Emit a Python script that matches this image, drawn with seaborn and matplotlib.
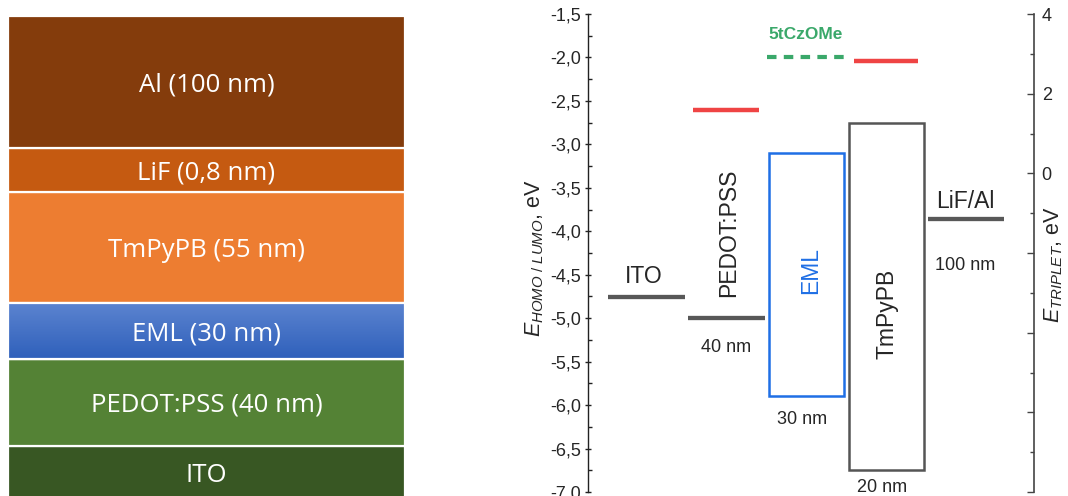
import numpy as np
import pandas as pd
import matplotlib
matplotlib.use("Agg")
import matplotlib.pyplot as plt
import seaborn as sns
from matplotlib.colors import LinearSegmentedColormap

# ---------------- data ----------------
stack_labels = ["ITO", "PEDOT:PSS (40 nm)", "EML (30 nm)", "TmPyPB (55 nm)", "LiF (0,8 nm)", "Al (100 nm)"]
stack_heights = [55.3, 86.5, 56.5, 111.0, 43.9, 131.8]      # schematic layer heights
stack_colors = ["#385723", "#548235", "#4472c4", "#ed7d31", "#c55a11", "#843c0c"]

level_names = ["ITO", "PEDOT:PSS", "LiF/Al"]
level_energy = [-4.76, -5.00, -3.86]

box_names = ["EML", "TmPyPB"]
box_lumo = [-3.10, -2.75]
box_homo = [-5.90, -6.75]

triplet_names = ["PEDOT:PSS", "5tCzOMe", "TmPyPB"]
triplet_energy = [1.60, 2.91, 2.81]

left_ticks = [-7.0, -6.5, -6.0, -5.5, -5.0, -4.5, -4.0, -3.5, -3.0, -2.5, -2.0, -1.5]
right_ticks = [-8, -6, -4, -2, 0, 2, 4]
right_ticklabels = ["", "", "", "", "0", "2", "4"]

# ---------------- style ----------------
sns.set_theme(style="white")
plt.rcParams["font.family"] = ["Liberation Sans", "DejaVu Sans"]
plt.rcParams["mathtext.fontset"] = "custom"
plt.rcParams["mathtext.it"] = "Liberation Sans:italic"
plt.rcParams["mathtext.rm"] = "Liberation Sans"
plt.rcParams["mathtext.default"] = "it"

W, H = 1068, 496
fig = plt.figure(figsize=(W / 100, H / 100), dpi=100)
fig.patch.set_facecolor("white")

def fx(px):
    return px / W

def fy(py):
    return 1 - py / H

# ---------------- left: device stack ----------------
ax1 = fig.add_axes([fx(8), 0, fx(405) - fx(8), 1 - 16 / H])
ax1.set_xlim(0, 1)
ax1.set_ylim(0, 480)
ax1.axis("off")
bottoms = np.concatenate([[-5.0], -5.0 + np.cumsum(stack_heights)[:-1]])
bars = ax1.bar([0.5] * len(stack_heights), stack_heights, bottom=bottoms, width=1.0,
               color=stack_colors, edgecolor="white", linewidth=1.6)
# gradient for EML layer
eml_bar = bars[2]
grad = np.linspace(0, 1, 64).reshape(-1, 1)
cmap = LinearSegmentedColormap.from_list("eml", ["#2f60bb", "#5c84d0"])
im = ax1.imshow(grad, extent=[0, 1, bottoms[2], bottoms[2] + stack_heights[2]],
                origin="lower", cmap=cmap, aspect="auto", zorder=1.5)
im.set_clip_path(eml_bar)
ax1.bar([0.5], [stack_heights[2]], bottom=[bottoms[2]], width=1.0, color="none",
        edgecolor="white", linewidth=1.6, zorder=2)
for i, lab in enumerate(stack_labels):
    lo = max(bottoms[i], 0)
    hi = bottoms[i] + stack_heights[i]
    yc = (lo + hi) / 2 if i > 0 else (lo + hi) / 2 - 1.5
    ax1.text(0.5, yc, lab, ha="center", va="center_baseline", color="white",
             fontsize=18.5, family="Open Sans")

# ---------------- right: energy diagram ----------------
ax_l = 587.7
ax2 = fig.add_axes([fx(ax_l), fy(492), fx(1034) - fx(ax_l), (492 - 14) / H])
ax2.set_facecolor("none")
ax2.set_xlim(0, 1034 - ax_l)
ax2.set_ylim(-7.0, -1.5)

# horizontal spans (layout, in axis px)
level_span = {"ITO": (20.0, 97.3), "PEDOT:PSS": (100.0, 177.3), "LiF/Al": (340.0, 416.6)}
box_span = {"EML": (181.0, 256.6), "TmPyPB": (260.8, 336.1)}
trip_span = {"PEDOT:PSS": (105.3, 171.3), "5tCzOMe": (179.0, 256.3), "TmPyPB": (266.3, 330.3)}

rows = []
for n, e in zip(level_names, level_energy):
    for xv in level_span[n]:
        rows.append({"layer": n, "x": xv, "energy": e})
df_levels = pd.DataFrame(rows)
sns.lineplot(data=df_levels, x="x", y="energy", units="layer", estimator=None,
             color="#585858", linewidth=3.1, ax=ax2, solid_capstyle="butt")

# HOMO/LUMO boxes
box_colors = {"EML": "#1f6fe5", "TmPyPB": "#555555"}
for n, lu, ho in zip(box_names, box_lumo, box_homo):
    x0, x1 = box_span[n]
    ax2.bar((x0 + x1) / 2, lu - ho, bottom=ho, width=x1 - x0, fill=False,
            edgecolor=box_colors[n], linewidth=1.8, zorder=3)

ax2.set_yticks(left_ticks)
ax2.set_yticklabels([f"{v:.1f}".replace(".", ",") for v in left_ticks], fontsize=13)
ax2.set_yticks(np.arange(-7.0, -1.49, 0.25), minor=True)
ax2.tick_params(axis="y", which="major", direction="inout", length=4, width=1.0,
                color="#222222", pad=3, left=True, labelleft=True)
ax2.tick_params(axis="y", which="minor", direction="in", length=3, width=1.0,
                color="#222222", left=True)
ax2.set_xticks([])
for s in ["top", "bottom", "right"]:
    ax2.spines[s].set_visible(False)
ax2.spines["left"].set_color("#222222")
ax2.spines["left"].set_linewidth(1.0)
ax2.set_ylabel(r"$E_{HOMO\ /\ LUMO}$, eV", fontsize=15.5, va="center")
ax2.yaxis.set_label_coords((535 - ax_l) / (1034 - ax_l), (492 - 258) / 478)
ax2.set_xlabel("")

# triplet axis
ax3 = ax2.twinx()
ax3.set_ylim(-8, 4)
ax3.set_facecolor("none")
trows = []
for n, e in zip(triplet_names, triplet_energy):
    for xv in trip_span[n]:
        trows.append({"mat": n, "x": xv, "triplet": e})
df_trip = pd.DataFrame(trows)
sns.lineplot(data=df_trip[df_trip["mat"] != "5tCzOMe"], x="x", y="triplet", units="mat",
             estimator=None, color="#ef4444", linewidth=3.2, ax=ax3, solid_capstyle="butt")
sns.lineplot(data=df_trip[df_trip["mat"] == "5tCzOMe"], x="x", y="triplet",
             estimator=None, color="#3aa86a", linewidth=3.0, ax=ax3,
             linestyle=(0, (2.28, 1.75)), dash_capstyle="butt")
ax3.set_yticks(right_ticks)
ax3.set_yticklabels(right_ticklabels, fontsize=13)
ax3.set_yticks([-7, -5, -3, -1, 1, 3], minor=True)
ax3.tick_params(axis="y", which="major", direction="in", length=5, width=1.0,
                color="#444444", pad=5.5, right=True, labelright=True, left=False)
ax3.tick_params(axis="y", which="minor", direction="in", length=3, width=1.0,
                color="#444444", right=True, left=False)
for s in ["top", "bottom", "left"]:
    ax3.spines[s].set_visible(False)
ax3.spines["right"].set_color("#444444")
ax3.spines["right"].set_linewidth(1.2)
ax3.set_ylabel(r"$E_{TRIPLET}$, eV", fontsize=15.5, rotation=90, va="center")
ax3.yaxis.set_label_coords((1054 - ax_l) / (1034 - ax_l), (492 - 265) / 478)
ax3.set_xlabel("")

# ---------------- annotations ----------------
def ftext(x, y, s, **kw):
    fig.text(fx(x), fy(y), s, **kw)

ftext(644, 274, "ITO", ha="center", va="center_baseline", fontsize=16.5)
ftext(965, 199, "LiF/Al", ha="center", va="center_baseline", fontsize=16.5)
ftext(729, 232.5, "PEDOT:PSS", ha="center", va="center", rotation=90, fontsize=16.5)
ftext(811, 271, "EML", ha="center", va="center", rotation=90, fontsize=16.5, color="#1f6fe5")
ftext(887, 313.5, "TmPyPB", ha="center", va="center", rotation=90, fontsize=16.5)
ftext(725.8, 345, "40 nm", ha="center", va="center_baseline", fontsize=13)
ftext(802, 417.5, "30 nm", ha="center", va="center_baseline", fontsize=13)
ftext(882.5, 485.5, "20 nm", ha="center", va="center_baseline", fontsize=13)
ftext(965, 264, "100 nm", ha="center", va="center_baseline", fontsize=13)
ftext(806, 33, "5tCzOMe", ha="center", va="center_baseline", fontsize=12.5,
      fontweight="bold", color="#3aa86a")

fig.savefig("out.png", dpi=100, facecolor="white")
